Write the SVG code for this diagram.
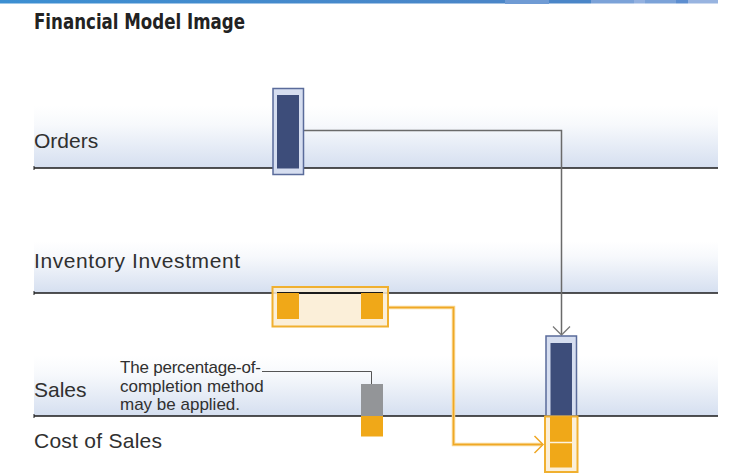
<svg xmlns="http://www.w3.org/2000/svg" width="734" height="475" viewBox="0 0 734 475">
<defs>
<linearGradient id="topbar" x1="0" y1="0" x2="1" y2="0">
<stop offset="0" stop-color="#3c8fd2"/>
<stop offset="1" stop-color="#4a86c8"/>
</linearGradient>
<linearGradient id="band" x1="0" y1="0" x2="0" y2="1">
<stop offset="0" stop-color="#ffffff"/>
<stop offset="0.3" stop-color="#f7f9fc"/>
<stop offset="1" stop-color="#d5dff0"/>
</linearGradient>
</defs>
<style>
.lbl{font-family:"Liberation Sans",Arial,sans-serif;font-size:21px;fill:#303030}
.note{font-family:"Liberation Sans",Arial,sans-serif;font-size:17px;fill:#303030}
.axis{stroke:#1a1a1a;stroke-width:1.5;fill:none}
.tick{stroke:#1a1a1a;stroke-width:1;fill:none}
.blueOuter{fill:#d6def0;stroke:#5a6b9a;stroke-width:1.5}
.blueInner{fill:#3d4d7a}
.orOuter{fill:#faecd2;fill-opacity:0.85;stroke:#f0b030;stroke-width:2}
.orInner{fill:#f0a818}
.orCon{stroke:#efa825;stroke-width:1.5;fill:none}
.orHalo{stroke:#f8d690;stroke-width:3.5;fill:none}
</style>

<!-- top bar -->
<rect x="0" y="0" width="480" height="3.5" fill="url(#topbar)"/>
<rect x="480" y="0" width="25" height="3.5" fill="#4a86c8"/>
<rect x="505" y="0" width="44" height="4" fill="#6f9bd4"/>
<rect x="549" y="0" width="42" height="3.5" fill="#4a86c8"/>
<rect x="591" y="0" width="43" height="3.5" fill="#7ba2d8"/>
<rect x="634" y="0" width="11" height="3.5" fill="#93b1e0"/>
<rect x="645" y="0" width="31" height="3.5" fill="#7ba2d8"/>
<rect x="676" y="0" width="12" height="3.5" fill="#5d8ed0"/>
<rect x="688" y="0" width="30" height="3.5" fill="#98b4e0"/>

<text x="34" y="29" font-family="'DejaVu Sans Condensed','Liberation Sans',Arial,sans-serif" font-weight="bold" font-size="22" fill="#222" textLength="211" lengthAdjust="spacingAndGlyphs">Financial Model Image</text>

<!-- bands -->
<g id="band-orders">
<rect x="34" y="106" width="684" height="62" fill="url(#band)"/>
<line class="axis" x1="34" y1="168" x2="718" y2="168"/>
<line class="tick" x1="34" y1="166" x2="34" y2="170"/>
<text class="lbl" x="34" y="148">Orders</text>
</g>
<g id="band-inventory">
<rect x="34" y="241" width="684" height="52" fill="url(#band)"/>
<line class="axis" x1="34" y1="293" x2="718" y2="293"/>
<line class="tick" x1="34" y1="291" x2="34" y2="295"/>
<text class="lbl" x="34" y="268" textLength="206">Inventory Investment</text>
</g>
<g id="band-sales">
<rect x="34" y="356" width="684" height="60" fill="url(#band)"/>
<line class="axis" x1="34" y1="416" x2="718" y2="416"/>
<line class="tick" x1="34" y1="414" x2="34" y2="418"/>
<text class="lbl" x="34" y="397">Sales</text>
</g>
<g id="label-cost">
<text class="lbl" x="34" y="448" textLength="128">Cost of Sales</text>
</g>

<!-- connectors -->
<g id="connectors">
<polyline points="303.5,130.5 561.5,130.5 561.5,334" stroke="#6a6a6a" stroke-width="1.5" fill="none"/>
<polyline points="553,326.5 561.5,335 570,326.5" stroke="#7a7a7a" stroke-width="1.3" fill="none"/>
<polyline class="orHalo" points="388,307.5 453.5,307.5 453.5,444.5 542,444.5"/>
<polyline class="orCon" points="388,307.5 453.5,307.5 453.5,444.5 542,444.5"/>
<polyline points="534.5,436 543,444.5 534.5,453" stroke="#efa825" stroke-width="1.5" fill="none"/>
<polyline points="262,371.5 371.5,371.5 371.5,384" stroke="#555" stroke-width="1" fill="none"/>
</g>

<!-- nodes -->
<g id="node-orders">
<rect class="blueOuter" x="273" y="88.5" width="30.5" height="86"/>
<rect class="blueInner" x="277" y="95" width="22" height="73.5"/>
</g>

<g id="node-inventory">
<rect class="orOuter" x="272.5" y="287" width="115.5" height="39.5"/>
<line x1="277" y1="293" x2="383" y2="293" stroke="#1a1a1a" stroke-width="2"/>
<rect class="orInner" x="277" y="293" width="22" height="26"/>
<rect class="orInner" x="361" y="293" width="22" height="26"/>
</g>

<g id="node-sales">
<rect class="blueOuter" x="546" y="336" width="30.5" height="80"/>
<rect class="blueInner" x="550.5" y="343" width="21.5" height="72.5"/>
</g>

<g id="node-cost">
<rect class="orOuter" x="545" y="416.5" width="32.5" height="55.5" fill-opacity="1"/>
<rect class="orInner" x="550" y="416.5" width="22" height="51"/>
<line x1="550" y1="442.5" x2="572" y2="442.5" stroke="#fdf3e0" stroke-width="1.5"/>
</g>

<g id="node-poc">
<rect x="361" y="384" width="22" height="32" fill="#939598"/>
<rect class="orInner" x="361" y="416" width="22" height="20.5"/>
</g>

<g id="note">
<text class="note" x="120" y="373" textLength="141">The percentage-of-</text>
<text class="note" x="120" y="391.5">completion method</text>
<text class="note" x="120" y="410">may be applied.</text>
</g>
</svg>
